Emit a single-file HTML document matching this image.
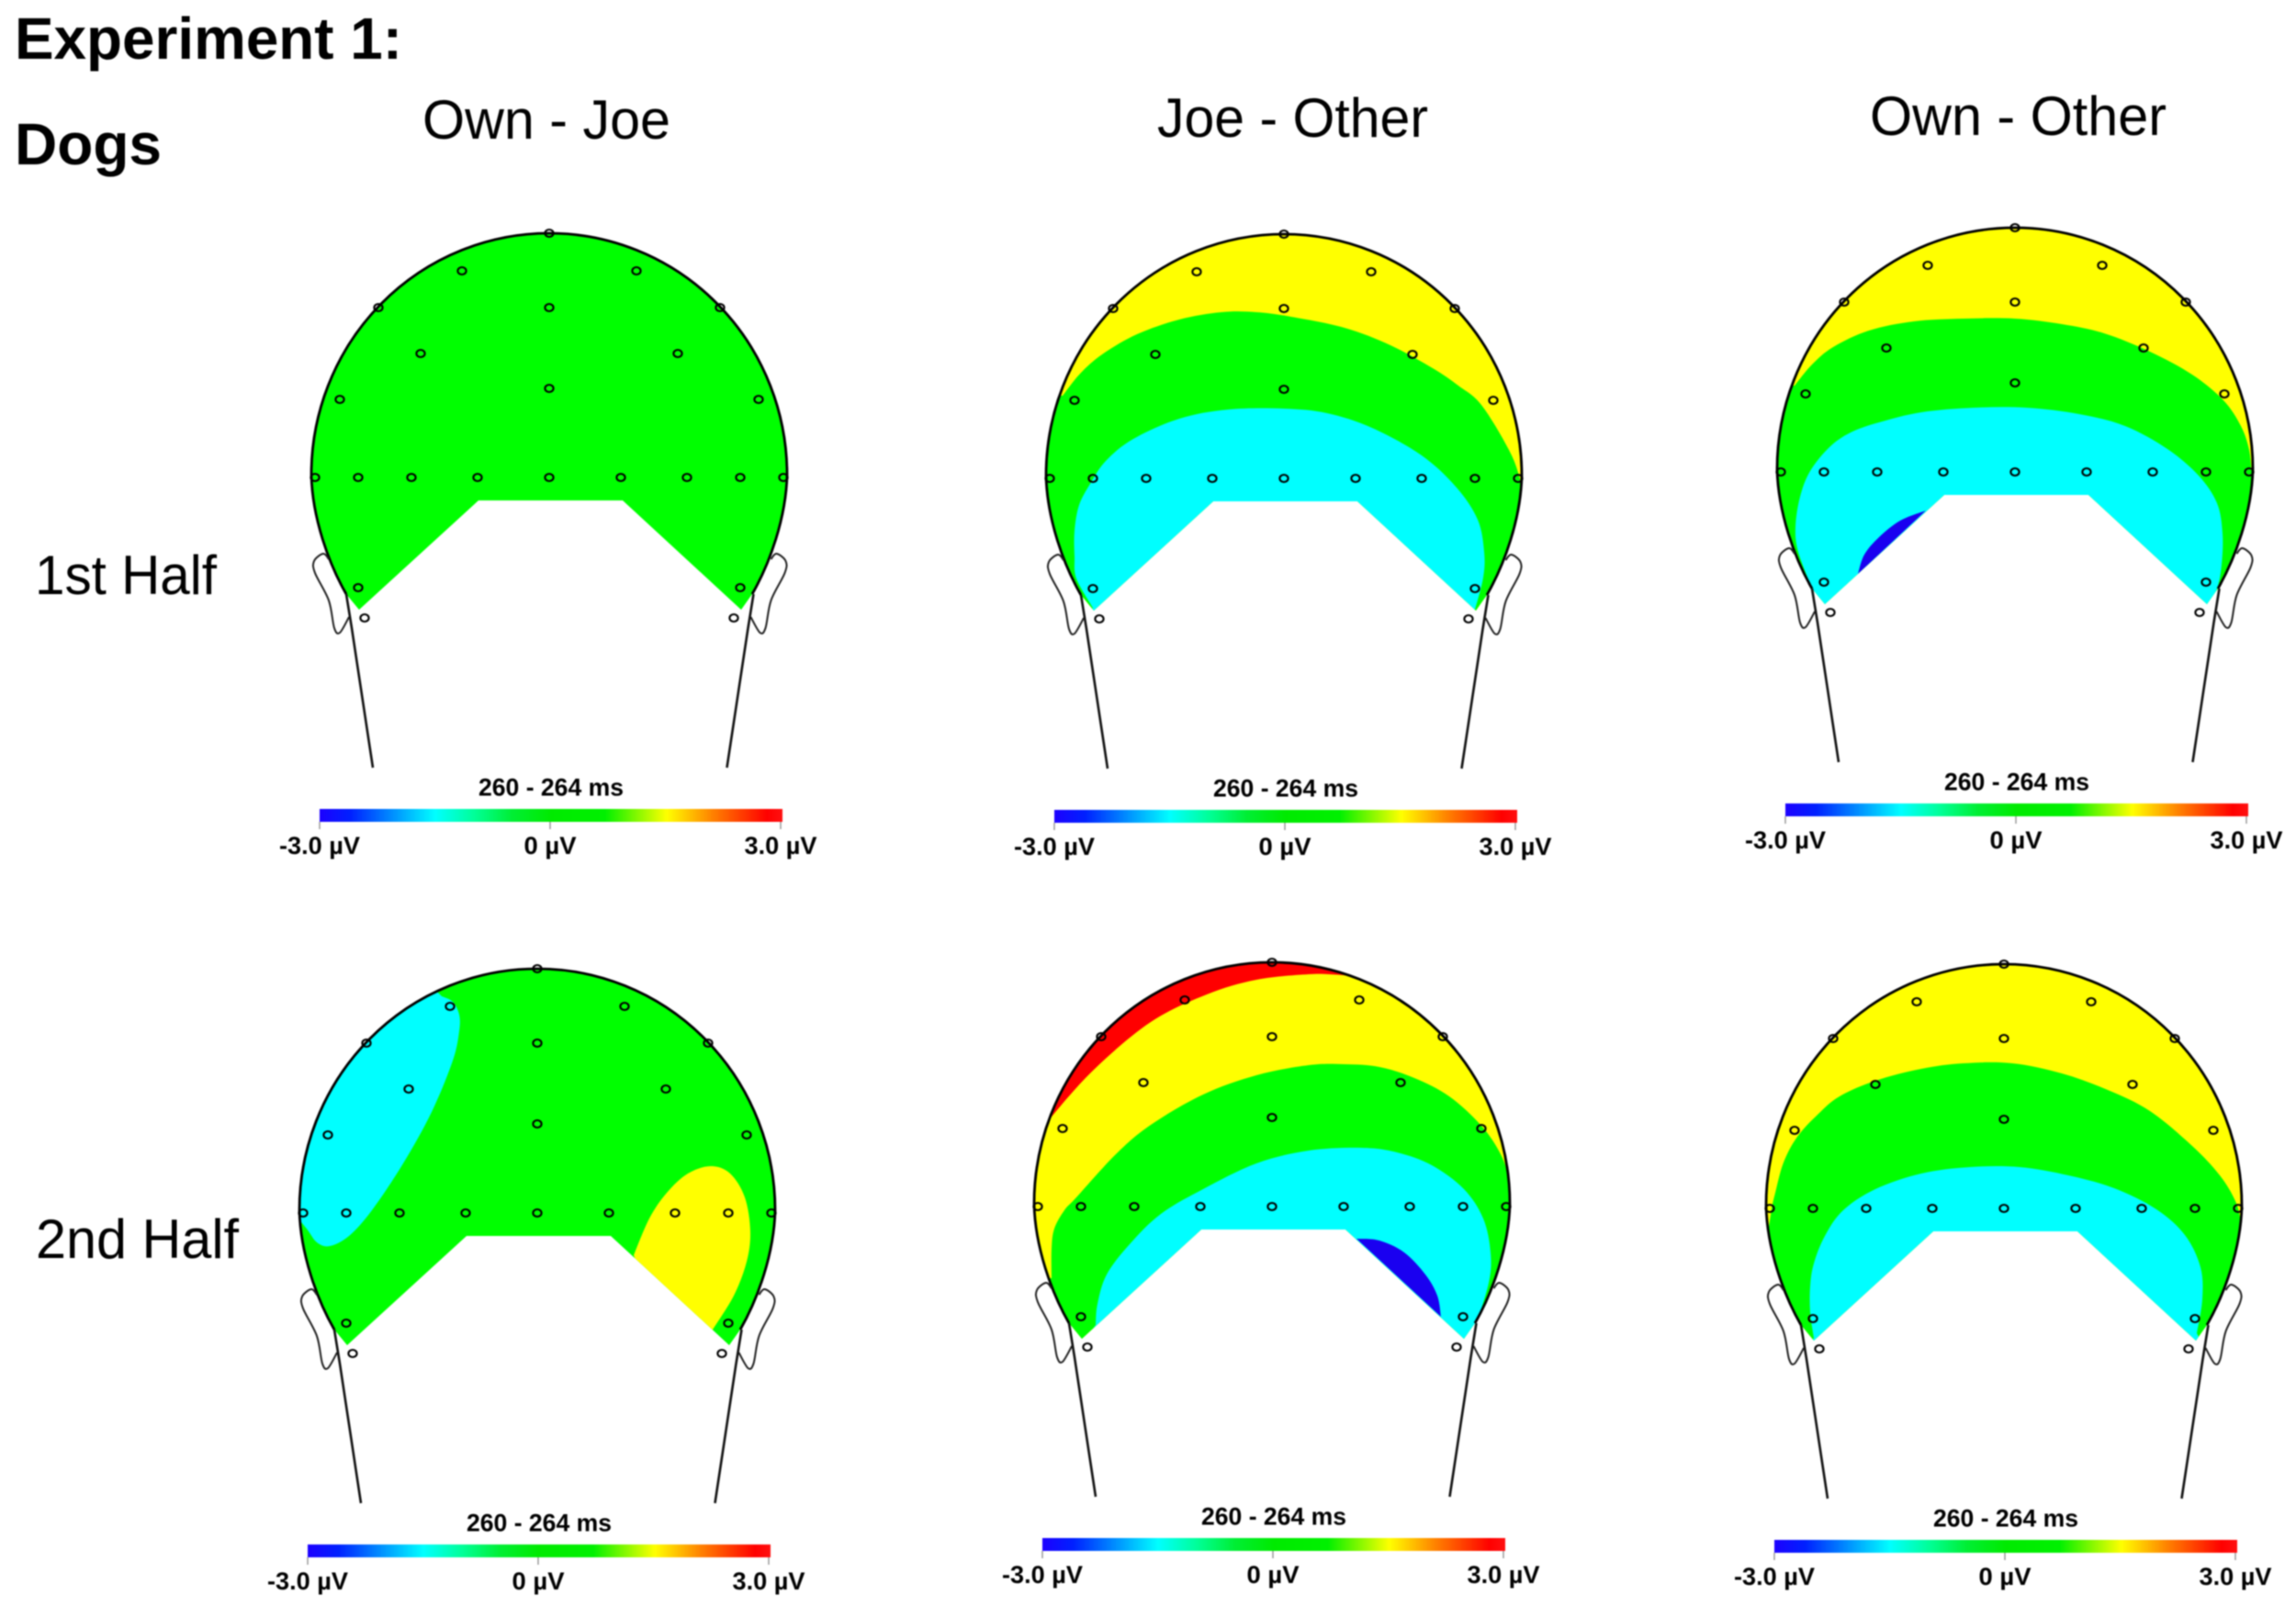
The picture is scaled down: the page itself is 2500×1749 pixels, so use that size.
<!DOCTYPE html>
<html lang="en">
<head>
<meta charset="utf-8">
<title>Experiment 1: Dogs – ERP topographic maps</title>
<style>
html,body{margin:0;padding:0;background:#fff;width:2500px;height:1749px;overflow:hidden}
svg{display:block;filter:blur(.7px)}
text{font-family:"Liberation Sans",Arial,sans-serif;fill:#000}
.h{font-weight:700;font-size:64px}
.c{font-size:60px}
.t{font-weight:700;font-size:27px}
</style>
</head>
<body>
<svg id="chart" xmlns="http://www.w3.org/2000/svg" width="2500" height="1749" viewBox="0 0 2500 1749">
<defs id="defs"><linearGradient id="cbar" x1="0" x2="1" y1="0" y2="0"></linearGradient></defs>
<rect width="2500" height="1749" fill="#fff"/>
<text class="h" x="16" y="64" textLength="422" lengthAdjust="spacingAndGlyphs">Experiment 1:</text>
<text class="h" x="16" y="179" textLength="160" lengthAdjust="spacingAndGlyphs">Dogs</text>
<text class="c" x="460" y="151" textLength="270" lengthAdjust="spacingAndGlyphs">Own - Joe</text>
<text class="c" x="1260" y="149" textLength="295" lengthAdjust="spacingAndGlyphs">Joe - Other</text>
<text class="c" x="2036" y="147" textLength="323" lengthAdjust="spacingAndGlyphs">Own - Other</text>
<text class="c" x="38" y="647" textLength="198" lengthAdjust="spacingAndGlyphs">1st Half</text>
<text class="c" x="39" y="1370" textLength="221" lengthAdjust="spacingAndGlyphs">2nd Half</text>
<g id="panels"></g>
</svg>
<script>
// ---- Scale data ----
const timeWindow = "260 - 264 ms";
const scaleTicks = [-3, 0, 3];
const scaleTickLabels = ["-3.0 µV", "0 µV", "3.0 µV"];
const scaleLabelWidths = [88, 57, 79];
const scaleMin = -3;
const scaleMax = 3;
const colorStopValues = [-3, -2.6, -1.5, -1, -0.5, 0, 0.7, 1.5, 2.1, 2.8, 3];
const colorStopColors = ["#1c00ff", "#0020ff", "#00ffff", "#00ff99", "#00ee33", "#00ea00", "#00f000", "#ffff00", "#ff8000", "#ff0000", "#ff1010"];

// ---- Band colours ----
const RED = "#ff0000", YELLOW = "#ffff00", GREEN = "#00ff00", CYAN = "#00ffff", BLUE = "#1a00f0";

// ---- Electrode sites in scalp units (lateral, distance from vertex) ----
const electrodeLateral = [0, -95, 95, -186, 0, 186, -140, 140, 0, -228, 228, -255, -208, -150, -78, 0, 78, 150, 208, 255, -208, 208, -201, 201];
const electrodeDepth = [0, 41, 41, 81, 81, 81, 131, 131, 169, 181, 181, 266, 266, 266, 266, 266, 266, 266, 266, 266, 386, 386, 419, 419];

// ---- Contour lines per condition, in scalp units ----
const joeOther1YellowGreen = [[-241,176],[-222,152],[-198,131],[-160,109],[-114,93],[-68,85],[-30,85],[8,90],[66,102],[116,121],[162,146],[190,165],[215,186],[245,235],[257,267],[262,300]];
const joeOther1GreenCyan = [[-208,407],[-226,375],[-228,351],[-228,323],[-223,295],[-211,272],[-194,247],[-164,223],[-114,201],[-61,191],[0,190],[47,195],[96,211],[150,241],[188,276],[211,311],[218,346],[217,374],[208,409]];
const ownOther1YellowGreen = [[-240,172],[-221,149],[-198,130],[-159,112],[-110,102],[-56,99],[0,99],[51,105],[97,115],[147,135],[193,160],[227,188],[246,216],[255,242],[258,270],[262,300]];
const ownOther1GreenCyan = [[-221,393],[-236,353],[-239,326],[-234,293],[-223,265],[-202,239],[-179,223],[-148,212],[-102,201],[-45,196],[13,196],[70,203],[120,216],[166,241],[200,270],[220,300],[226,333],[225,367],[220,393],[209,412]];
const ownOther1CyanBlue = [[-97,308],[-125,319],[-148,337],[-164,356],[-171,377]];
const ownJoe2Cyan = [[-104,30],[-92,36],[-85,50],[-85,68],[-92,100],[-115,156],[-146,212],[-180,263],[-205,291],[-226,302],[-240,298],[-252,282],[-275,255]];
const ownJoe2Yellow = [[105,312],[122,272],[141,244],[164,223],[189,215],[210,223],[226,249],[232,286],[228,319],[214,356],[191,393]];
const joeOther2RedYellow = [[-250,185],[-239,167],[-193,116],[-132,65],[-71,35],[-17,19],[40,13],[70,13.5],[85,15]];
const joeOther2YellowGreen = [[-240,344],[-240,312],[-237,290],[-226,270],[-213,256],[-170,209],[-132,177],[-75,144],[-17,123],[40,112],[79,111],[117,114],[155,126],[193,146],[228,178],[249,209],[258,237],[261,270]];
const joeOther2GreenCyan = [[-192,395],[-190,372],[-180,340],[-155,307],[-121,274],[-75,247],[-17,219],[40,205],[98,202],[136,207],[174,221],[209,247],[230,279],[238,316],[236,349],[220,400],[211,412]];
const joeOther2CyanBlue = [[92,301],[117,303],[144,316],[167,340],[180,363],[184,386]];
const ownOther2YellowGreen = [[-258,300],[-253,267],[-249,249],[-240,216],[-225,188],[-202,163],[-179,144],[-140,127],[-90,114],[-44,108],[9,108],[63,119],[113,137],[159,160],[205,198],[235,230],[252,258],[258,281],[262,310]];
const ownOther2GreenCyan = [[-207,407],[-211,379],[-211,351],[-207,326],[-195,296],[-175,268],[-140,245],[-90,228],[-37,221],[17,221],[70,230],[120,244],[166,267],[197,295],[214,330],[216,365],[210,402]];

// ---- Outside-the-scalp closing corners for the filled bands ----
const closeBelow = [[300,300],[300,460],[-300,460],[-300,170]];
const closeBelowNarrow = [[240,460],[-240,460]];
const closeTopLeft = [[100,-30],[-300,-30],[-300,185]];
const closeLeftOutside = [[-300,250],[-300,40],[-140,-5]];
const closeLeftBelow = [[300,300],[300,460],[-300,460],[-300,300]];

// ---- Panels ----
const panelNames = ["own-joe-first-half", "joe-other-first-half", "own-other-first-half", "own-joe-second-half", "joe-other-second-half", "own-other-second-half"];
const panelCentreX = [598, 1398, 2194, 585, 1385, 2182];
const panelVertexY = [254, 255, 248, 1055, 1048, 1050];
const panelBase = [GREEN, YELLOW, YELLOW, GREEN, YELLOW, YELLOW];
const panelBands = [
  [],
  [[GREEN, joeOther1YellowGreen, closeBelow], [CYAN, joeOther1GreenCyan, closeBelowNarrow]],
  [[GREEN, ownOther1YellowGreen, closeBelow], [CYAN, ownOther1GreenCyan, closeBelowNarrow], [BLUE, ownOther1CyanBlue, []]],
  [[CYAN, ownJoe2Cyan, closeLeftOutside], [YELLOW, ownJoe2Yellow, [[150,420]]]],
  [[RED, joeOther2RedYellow, closeTopLeft], [GREEN, joeOther2YellowGreen, [[300,270],[300,460],[-300,460],[-300,344]]], [CYAN, joeOther2GreenCyan, closeBelowNarrow], [BLUE, joeOther2CyanBlue, []]],
  [[GREEN, ownOther2YellowGreen, closeLeftBelow], [CYAN, ownOther2GreenCyan, closeBelowNarrow]]
];

// ---- Head outline landmarks, scalp units ----
const headRadiusX = 259, headRadiusY = 263;
const cutTopLeft = [-77, 291], cutTopRight = [80, 291], tipLeft = [-207, 410], tipRight = [209, 410];
const earLeft = [[-240,355],[-246,349],[-256,357],[-255,370],[-240,400],[-234,430],[-228,435],[-218,418]];
const neckLeft = [[-221,393],[-215,430],[-192,582]];

// ---- Colourbar layout, scalp units ----
const barTop = 627, barHeight = 14, tickLen = 8, barHalf = 251, titleY = 612.5, labelY = 676;

const NS = "http://www.w3.org/2000/svg";
function make(tag, attrs, parent) {
  const el = document.createElementNS(NS, tag);
  for (const k in attrs) el.setAttribute(k, attrs[k]);
  if (parent) parent.appendChild(el);
  return el;
}
function smooth(points, sx, sy) {
  let d = "M" + sx(points[0][0]) + " " + sy(points[0][1]);
  for (let i = 0; i < points.length - 1; i++) {
    const p0 = points[Math.max(i - 1, 0)], p1 = points[i], p2 = points[i + 1], p3 = points[Math.min(i + 2, points.length - 1)];
    const c1x = p1[0] + (p2[0] - p0[0]) / 6, c1y = p1[1] + (p2[1] - p0[1]) / 6;
    const c2x = p2[0] - (p3[0] - p1[0]) / 6, c2y = p2[1] - (p3[1] - p1[1]) / 6;
    d += " C" + sx(c1x) + " " + sy(c1y) + " " + sx(c2x) + " " + sy(c2y) + " " + sx(p2[0]) + " " + sy(p2[1]);
  }
  return d;
}

// colourbar gradient
const grad = document.getElementById("cbar");
colorStopValues.forEach((v, i) => {
  make("stop", {offset: (v - scaleMin) / (scaleMax - scaleMin), "stop-color": colorStopColors[i]}, grad);
});

const defs = document.getElementById("defs");
const root = document.getElementById("panels");

panelNames.forEach((name, p) => {
  const sx = v => panelCentreX[p] + v;
  const sy = v => panelVertexY[p] + v;
  const valueX = v => sx(1 + barHalf * (v - (scaleMin + scaleMax) / 2) / ((scaleMax - scaleMin) / 2));

  const g = make("g", {}, root);
  
  

  const arcBody =
    " C" + sx(-240) + " " + sy(360) + " " + sx(-258) + " " + sy(310) + " " + sx(-259) + " " + sy(headRadiusY) +
    " A" + headRadiusX + " " + headRadiusY + " 0 0 1 " + sx(headRadiusX) + " " + sy(headRadiusY) +
    " C" + sx(258) + " " + sy(310) + " " + sx(240) + " " + sy(360) + " " + sx(221) + " " + sy(393);
  const fillPath = "M" + sx(tipLeft[0]) + " " + sy(tipLeft[1]) + " L" + sx(-221) + " " + sy(393) + arcBody +
    " L" + sx(tipRight[0]) + " " + sy(tipRight[1]) + " L" + sx(cutTopRight[0]) + " " + sy(cutTopRight[1]) +
    " L" + sx(cutTopLeft[0]) + " " + sy(cutTopLeft[1]) + " Z";

  const clip = make("clipPath", {id: "clip" + p}, defs);
  make("path", {d: fillPath}, clip);

  const base = make("path", {d: fillPath, fill: panelBase[p]}, g);
  
  

  const bands = make("g", {"clip-path": "url(#clip" + p + ")"}, g);
  panelBands[p].forEach(band => {
    let d = smooth(band[1], sx, sy);
    band[2].forEach(c => { d += " L" + sx(c[0]) + " " + sy(c[1]); });
    d += " Z";
    const path = make("path", {d: d, fill: band[0]}, bands);
    
    
  });

  const outline = make("path", {d: "M" + sx(-221) + " " + sy(393) + arcBody, fill: "none", stroke: "#000", "stroke-width": 2.8}, g);
  
  

  [1, -1].forEach(side => {
    const sideX = v => sx(side * v + (side < 0 ? 1.5 : 0));
    const ear = make("path", {d: smooth(earLeft, sideX, sy), fill: "none", stroke: "#222", "stroke-width": 2, "stroke-linejoin": "round"}, g);
    
    
    const neck = make("polyline", {points: neckLeft.map(q => sideX(q[0]) + "," + sy(q[1])).join(" "), fill: "none", stroke: "#111", "stroke-width": 2.6}, g);
    
    
  });

  electrodeLateral.forEach((lat, i) => {
    const e = make("ellipse", {cx: sx(lat), cy: sy(electrodeDepth[i]), rx: 4.6, ry: 4, fill: "none", stroke: "#000", "stroke-width": 2.1}, g);
    
    
  });

  const title = make("text", {class: "t", x: sx(2), y: sy(titleY), "text-anchor": "middle", textLength: 158, lengthAdjust: "spacingAndGlyphs"}, g);
  title.textContent = timeWindow;
  
  

  const bar = make("rect", {x: valueX(scaleMin), y: sy(barTop), width: valueX(scaleMax) - valueX(scaleMin) + 2, height: barHeight, fill: "url(#cbar)"}, g);
  
  

  scaleTicks.forEach((v, i) => {
    const tick = make("line", {x1: valueX(v), x2: valueX(v), y1: sy(barTop + barHeight), y2: sy(barTop + barHeight + tickLen), stroke: "#999", "stroke-width": 1.5}, g);
    
    
    const label = make("text", {class: "t", x: valueX(v), y: sy(labelY), "text-anchor": "middle", textLength: scaleLabelWidths[i], lengthAdjust: "spacingAndGlyphs"}, g);
    label.textContent = scaleTickLabels[i];
    
    
  });
});
</script>
</body>
</html>
